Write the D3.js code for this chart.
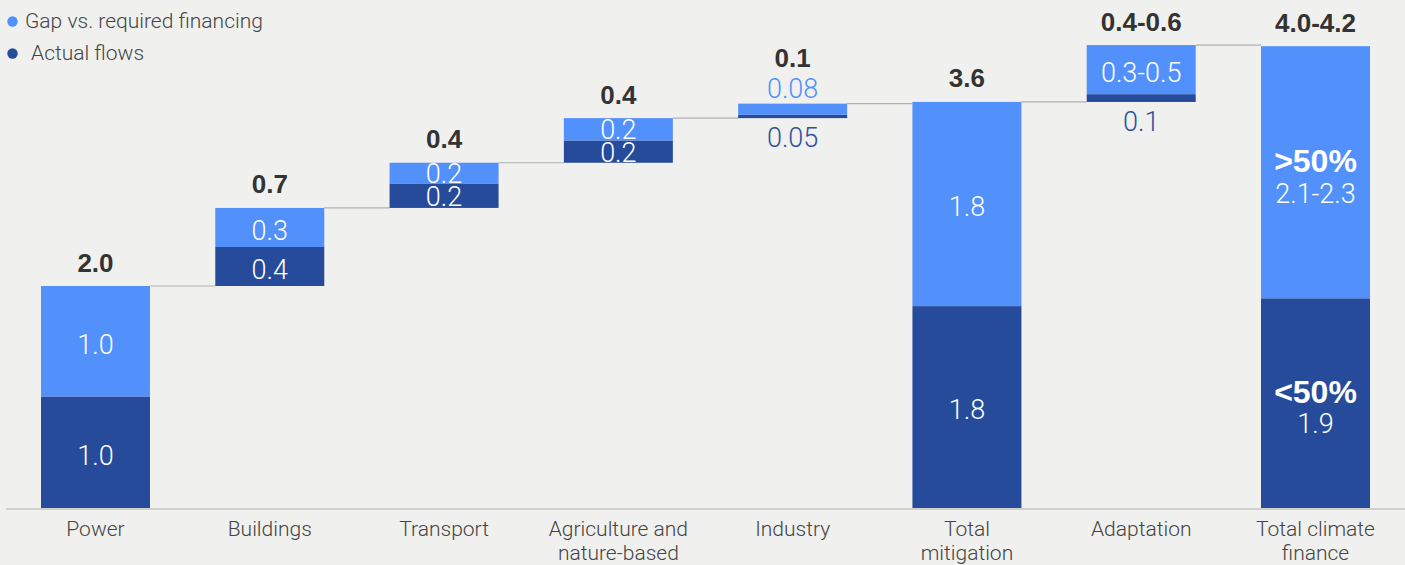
<!DOCTYPE html>
<html>
<head>
<meta charset="utf-8">
<script src="https://cdn.jsdelivr.net/npm/d3@7"></script>
<style>
  html, body { margin: 0; padding: 0; background: #f0f0ee; }
  svg { display: block; font-family: "Liberation Sans", Arial, Helvetica, sans-serif; }
  .lt { font-family: Roboto, "Liberation Sans", Arial, sans-serif; font-weight: 300; }
</style>
</head>
<body>
<svg id="chart" width="1405" height="565"></svg>
<script>
// ---- data ----
const categories = ["Power", "Buildings", "Transport", "Agriculture and nature-based", "Industry", "Total mitigation", "Adaptation", "Total climate finance"];
const categoryLines = [["Power"], ["Buildings"], ["Transport"], ["Agriculture and", "nature-based"], ["Industry"], ["Total", "mitigation"], ["Adaptation"], ["Total climate", "finance"]];
const barKind = ["step", "step", "step", "step", "step", "total", "step", "total"];
// values as drawn (trillions)
const actualFlows = [1.0, 0.35, 0.215, 0.2, 0.03, 1.81, 0.07, 1.88];
const gapFinancing = [0.99, 0.35, 0.19, 0.2, 0.1, 1.83, 0.44, 2.26];
// labels as printed
const actualLabels = ["1.0", "0.4", "0.2", "0.2", "0.05", "1.8", "0.1", "1.9"];
const gapLabels = ["1.0", "0.3", "0.2", "0.2", "0.08", "1.8", "0.3-0.5", "2.1-2.3"];
const totalLabels = ["2.0", "0.7", "0.4", "0.4", "0.1", "3.6", "0.4-0.6", "4.0-4.2"];
const actualShare = ["", "", "", "", "", "", "", "<50%"];
const gapShare = ["", "", "", "", "", "", "", ">50%"];
const legendItems = ["Gap vs. required financing", "Actual flows"];

// ---- styles ----
const C_GAP = "#5290fc", C_ACT = "#264b9b", C_ACT_TXT = "#2d50a0";
const C_TEXT = "#333333", C_CAT = "#444444", C_LINE = "#b0b0b0";

const svg = d3.select("#chart");
const W = 1405, H = 565;
svg.append("rect").attr("width", W).attr("height", H).attr("fill", "#f0f0ee");

const x = d3.scaleBand().domain(categories)
  .range([8.35, 1402.65]).paddingInner(0.3746).paddingOuter(0.1873);
const y = d3.scaleLinear().domain([0, 4]).range([508, 508 - 4 * 111.55]);

// waterfall layout
let running = 0;
const bars = categories.map((c, i) => {
  const base = barKind[i] === "total" ? 0 : running;
  const mid = base + actualFlows[i];
  const top = mid + gapFinancing[i];
  running = top;
  return { c, i, base, mid, top };
});

// connector lines
const conn = svg.append("g");
bars.slice(0, -1).forEach((b, i) => {
  const n = bars[i + 1];
  conn.append("line")
    .attr("x1", x(b.c) + x.bandwidth()).attr("x2", x(n.c))
    .attr("y1", y(b.top)).attr("y2", y(b.top))
    .attr("stroke", C_LINE).attr("stroke-width", 1.2);
});

// bars
const gBars = svg.append("g");
gBars.selectAll("rect.act").data(bars).join("rect")
  .attr("x", d => x(d.c)).attr("width", x.bandwidth())
  .attr("y", d => y(d.mid)).attr("height", d => y(d.base) - y(d.mid))
  .attr("fill", C_ACT);
gBars.selectAll("rect.gap").data(bars).join("rect")
  .attr("x", d => x(d.c)).attr("width", x.bandwidth())
  .attr("y", d => y(d.top)).attr("height", d => y(d.mid) - y(d.top))
  .attr("fill", C_GAP);

// axis
svg.append("line").attr("x1", 6).attr("x2", W).attr("y1", 509).attr("y2", 509)
  .attr("stroke", C_LINE).attr("stroke-width", 1.2);
const axisG = svg.append("g").attr("transform", "translate(0,508)")
  .call(d3.axisBottom(x).tickSize(0).tickPadding(0));
axisG.select(".domain").remove();
axisG.attr("font-family", null);
axisG.selectAll(".tick text").each(function(d, i) {
  const t = d3.select(this);
  t.text(null).attr("y", null).attr("dy", null).attr("class", "lt")
    .attr("fill", C_CAT).attr("font-size", 21);
  categoryLines[i].forEach((ln, k) => {
    t.append("tspan").attr("x", 0).attr("y", 28 + k * 23.5).text(ln);
  });
});

// labels
const gLab = svg.append("g").attr("text-anchor", "middle");
bars.forEach(b => {
  const cx = x(b.c) + x.bandwidth() / 2;
  const hGap = y(b.mid) - y(b.top);
  const hAct = y(b.base) - y(b.mid);
  let totalBaseline = y(b.top) - 14.5;

  // gap label
  if (gapShare[b.i]) {
    const cy = (y(b.top) + y(b.mid)) / 2;
    gLab.append("text").attr("x", cx).attr("y", cy).attr("fill", "#fff")
      .attr("font-size", 32).attr("font-weight", "bold").text(gapShare[b.i]);
    gLab.append("text").attr("class", "lt").attr("x", cx).attr("y", cy + 31).attr("fill", "#fff")
      .attr("font-size", 27).text(gapLabels[b.i]);
  } else if (hGap >= 15) {
    const cy = (y(b.top) + y(b.mid)) / 2 + (hGap < 30 ? 0 : 3);
    gLab.append("text").attr("class", "lt").attr("x", cx).attr("y", cy).attr("dy", "0.35em").attr("fill", "#fff")
      .attr("font-size", 27).text(gapLabels[b.i]);
  } else {
    const bl = y(b.top) - 5.5;
    gLab.append("text").attr("class", "lt").attr("x", cx).attr("y", bl).attr("fill", C_GAP)
      .attr("font-size", 27).text(gapLabels[b.i]);
    totalBaseline = bl - 31.5;
  }

  // actual label
  if (actualShare[b.i]) {
    const cy = (y(b.mid) + y(b.base)) / 2;
    gLab.append("text").attr("x", cx).attr("y", cy).attr("fill", "#fff")
      .attr("font-size", 32).attr("font-weight", "bold").text(actualShare[b.i]);
    gLab.append("text").attr("class", "lt").attr("x", cx).attr("y", cy + 30).attr("fill", "#fff")
      .attr("font-size", 27).text(actualLabels[b.i]);
  } else if (hAct >= 15) {
    const cy = (y(b.mid) + y(b.base)) / 2 + (hAct < 30 ? 0.5 : 3);
    gLab.append("text").attr("class", "lt").attr("x", cx).attr("y", cy).attr("dy", "0.35em").attr("fill", "#fff")
      .attr("font-size", 27).text(actualLabels[b.i]);
  } else {
    gLab.append("text").attr("class", "lt").attr("x", cx).attr("y", y(b.base) + 29).attr("fill", C_ACT_TXT)
      .attr("font-size", 27).text(actualLabels[b.i]);
  }

  // total label
  gLab.append("text").attr("x", cx).attr("y", totalBaseline).attr("fill", C_TEXT)
    .attr("font-size", 26).attr("font-weight", "bold").text(totalLabels[b.i]);
});

// legend
const legColors = [C_GAP, C_ACT];
const legText = [{ x: 25, y: 28 }, { x: 31, y: 60 }];
const leg = svg.append("g");
legendItems.forEach((t, i) => {
  leg.append("circle").attr("cx", 12.5).attr("cy", i === 0 ? 21.5 : 53.5).attr("r", 5.2)
    .attr("fill", legColors[i]);
  leg.append("text").attr("class", "lt").attr("x", legText[i].x).attr("y", legText[i].y)
    .attr("font-size", 21).attr("fill", C_CAT).text(t);
});
</script>
</body>
</html>
